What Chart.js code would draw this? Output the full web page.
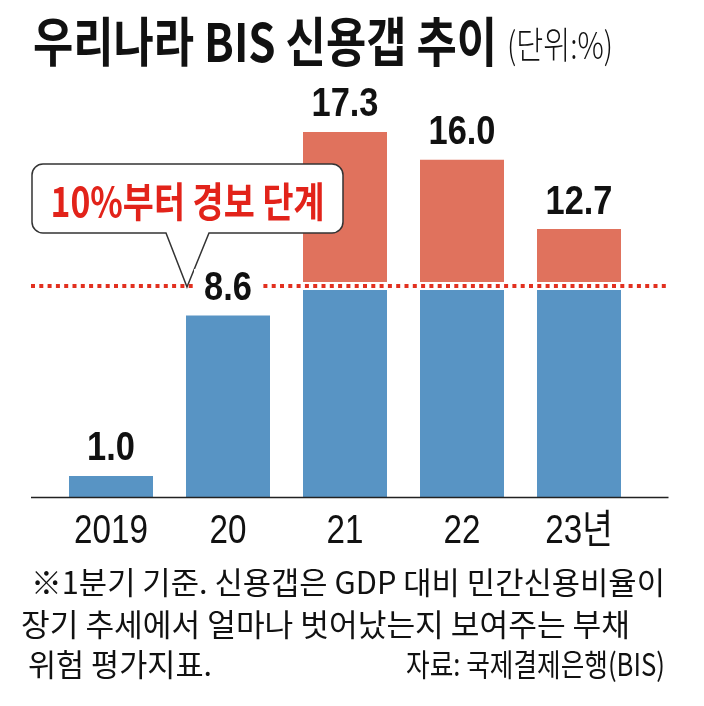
<!DOCTYPE html>
<html><head><meta charset="utf-8">
<script src="https://cdn.jsdelivr.net/npm/chart.js@4"></script>
<style>
html,body{margin:0;padding:0;background:#fff;}
#wrap{position:relative;width:704px;height:706px;overflow:hidden;background:#fff;}
canvas{position:absolute;left:0;top:0;}
.t{position:absolute;white-space:nowrap;transform-origin:0 0;font-family:'Noto Sans CJK KR','Noto Sans',sans-serif;color:#111;line-height:1;}
</style></head><body>
<div id="wrap">
<canvas id="c" width="704" height="706"></canvas>
<div class="t" style="left:33px;top:13px;font-size:53px;font-weight:700" data-w="464">우리나라 BIS 신용갭 추이</div>
<div class="t" style="left:507px;top:25px;font-size:37px;font-weight:300" data-w="106">(단위:%)</div>
<div class="t" style="left:31px;top:565px;font-size:31px" data-w="634">※1분기 기준. 신용갭은 GDP 대비 민간신용비율이</div>
<div class="t" style="left:21px;top:607px;font-size:31px" data-w="609">장기 추세에서 얼마나 벗어났는지 보여주는 부채</div>
<div class="t" style="left:28px;top:647px;font-size:31px" data-w="184">위험 평가지표.</div>
<div class="t" style="left:406px;top:647px;font-size:31px" data-w="259">자료: 국제결제은행(BIS)</div>
</div>
<script>
const tickLabels = ['2019', '20', '21', '22', '23년'];
const gapValues = [1.0, 8.6, 17.3, 16.0, 12.7];
const warnLevel = 10;
const warnText = '10%부터 경보 단계';

const BLUE = '#5894C4', RED = '#E0725D', LINE_RED = '#E2301F', TEXT_RED = '#E2231A';

function fitWidths(){
  document.querySelectorAll('.t[data-w]').forEach(el=>{
    el.style.transform='none';
    const w = el.getBoundingClientRect().width;
    const target = parseFloat(el.dataset.w);
    if (w>0) el.style.transform = 'scaleX(' + (target/w) + ')';
  });
}
fitWidths();
if (document.fonts && document.fonts.ready) document.fonts.ready.then(fitWidths);

const overlay = {
  id: 'overlay',
  afterDatasetsDraw(chart){
    const ctx = chart.ctx, ca = chart.chartArea, xs = chart.scales.x, ys = chart.scales.y;
    const metaB = chart.getDatasetMeta(0);
    ctx.save();
    // baseline axis
    ctx.strokeStyle = '#222'; ctx.lineWidth = 1.5;
    ctx.beginPath(); ctx.moveTo(ca.left - 21.5, ca.bottom + 0.5); ctx.lineTo(ca.right + 31, ca.bottom + 0.5); ctx.stroke();

    const ly = ys.getPixelForValue(warnLevel);
    // callout
    const bar = metaB.data[1];
    const tipX = bar.x - bar.width/2 + 1, tipY = ly + 1;
    const bx0 = tipX - 155, bx1 = tipX + 156, by0 = tipY - 123, by1 = tipY - 54, r = 11;
    ctx.beginPath();
    ctx.moveTo(bx0 + r, by0); ctx.lineTo(bx1 - r, by0); ctx.arcTo(bx1, by0, bx1, by0 + r, r);
    ctx.lineTo(bx1, by1 - r); ctx.arcTo(bx1, by1, bx1 - r, by1, r);
    ctx.lineTo(tipX + 22, by1); ctx.lineTo(tipX, tipY); ctx.lineTo(tipX - 21, by1);
    ctx.lineTo(bx0 + r, by1); ctx.arcTo(bx0, by1, bx0, by1 - r, r);
    ctx.lineTo(bx0, by0 + r); ctx.arcTo(bx0, by0, bx0 + r, by0, r); ctx.closePath();
    ctx.fillStyle = '#fff'; ctx.fill();
    ctx.strokeStyle = '#333'; ctx.lineWidth = 1.5; ctx.stroke();
    ctx.font = 'bold 41px "Noto Sans CJK KR", sans-serif';
    const tw = ctx.measureText(warnText).width;
    ctx.save();
    ctx.translate((bx0 + bx1)/2, tipY - 70);
    ctx.scale(274/tw, 1);
    ctx.fillStyle = TEXT_RED; ctx.textAlign = 'center'; ctx.textBaseline = 'alphabetic';
    ctx.fillText(warnText, 0, 0);
    ctx.restore();

    // dotted warning line
    ctx.strokeStyle = LINE_RED; ctx.lineWidth = 4; ctx.setLineDash([4, 4.3]);
    ctx.beginPath(); ctx.moveTo(ca.left - 21.5, ly); ctx.lineTo(ca.right + 31, ly); ctx.stroke();
    ctx.setLineDash([]);

    // value labels
    const vs = 0.84;
    ctx.font = 'bold 41px "Liberation Sans", Arial, sans-serif';
    gapValues.forEach((v, i)=>{
      const px = xs.getPixelForValue(i);
      const top = ys.getPixelForValue(v);
      const txt = v.toFixed(1);
      const w = ctx.measureText(txt).width * vs;
      const by = top - 15.5;
      ctx.fillStyle = '#fff';
      ctx.fillRect(px - w/2 - 10, by - 31, w + 20, 35);
      ctx.save(); ctx.translate(px, by); ctx.scale(vs, 1);
      ctx.fillStyle = '#111'; ctx.textAlign = 'center'; ctx.textBaseline = 'alphabetic';
      ctx.fillText(txt, 0, 0);
      ctx.restore();
    });

    // category labels
    ctx.font = '40px "Liberation Sans", Arial, "Noto Sans CJK KR", sans-serif';
    chart.data.labels.forEach((l, i)=>{
      const px = xs.getPixelForValue(i);
      ctx.save(); ctx.translate(px, ca.bottom + 46); ctx.scale(0.83, 1);
      ctx.fillStyle = '#111'; ctx.textAlign = 'center'; ctx.textBaseline = 'alphabetic';
      ctx.fillText(l, 0, 0);
      ctx.restore();
    });
    ctx.restore();
  }
};

new Chart(document.getElementById('c'), {
  type: 'bar',
  data: {
    labels: tickLabels,
    datasets: [
      {
        data: gapValues.map(v => Math.min(v, warnLevel)),
        backgroundColor: BLUE,
        borderColor: '#fff',
        borderSkipped: false,
        borderWidth: c => gapValues[c.dataIndex] > warnLevel ? {top: 4, bottom: 0, left: 0, right: 0} : 0
      },
      {
        data: gapValues.map(v => Math.max(v - warnLevel, 0)),
        backgroundColor: RED,
        borderColor: '#fff',
        borderSkipped: false,
        borderWidth: c => gapValues[c.dataIndex] > warnLevel ? {top: 0, bottom: 4, left: 0, right: 0} : 0
      }
    ]
  },
  options: {
    responsive: false,
    animation: false,
    devicePixelRatio: 1,
    layout: { padding: { left: 52.5, right: 66.5, top: 75, bottom: 209 } },
    categoryPercentage: 1,
    barPercentage: 0.718,
    scales: {
      x: { display: false, stacked: true, offset: true },
      y: { display: false, stacked: true, min: 0, max: 20 }
    },
    plugins: { legend: { display: false }, tooltip: { enabled: false } }
  },
  plugins: [overlay]
});
</script>
</body></html>
